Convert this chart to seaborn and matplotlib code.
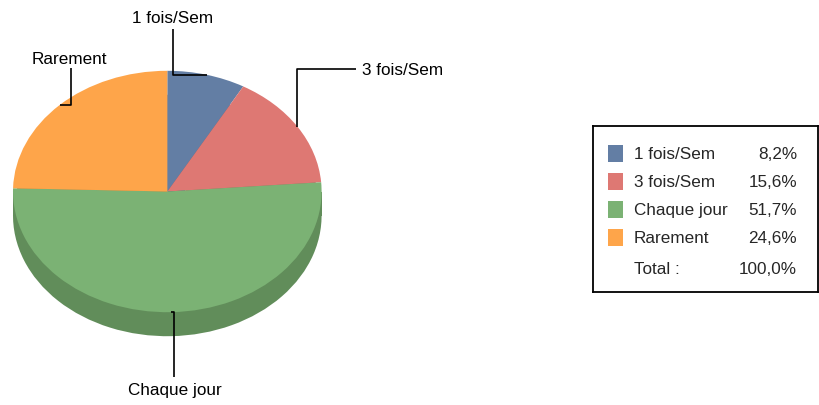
"""3D-style pie of visit frequency with a boxed legend of shares."""

import matplotlib.pyplot as plt
import numpy as np
import seaborn as sns

CATEGORIES = ["1 fois/Sem", "3 fois/Sem", "Chaque jour", "Rarement"]
SHARES = [8.2, 15.6, 51.7, 24.6]
TOTAL_SHARE = 100.0
COLORS = ["#637ea4", "#de7873", "#7bb274", "#fea54a"]
SIDE_COLORS = ["#4d6483", "#b25f5b", "#618d5a", "#cb843b"]

W, H = 819, 405
CX, CY, RX, RY = 167.3, 191.5, 154.3, 120.7
DEPTH = 24 / RY
FONT_SIZE = 12.3


def to_data(px, py):
    return (px - CX) / RX, (CY - py) / RY


def pct(value):
    return f"{value:.1f}%".replace(".", ",")


sns.set_theme(style="white")
plt.rcParams["font.family"] = ["Liberation Sans", "DejaVu Sans"]

fig = plt.figure(figsize=(W / 100, H / 100), dpi=100)
ax = fig.add_axes([0, 0, 1, 1])

# side of the disc, then the top face
ax.pie(SHARES, colors=SIDE_COLORS, startangle=90, counterclock=False,
       center=(0, -DEPTH), wedgeprops=dict(linewidth=0))
ax.fill_between([-1, 1], -DEPTH, 0, color=SIDE_COLORS[2], linewidth=0)
wedges, _ = ax.pie(SHARES, colors=COLORS, startangle=90, counterclock=False,
                   wedgeprops=dict(linewidth=0))
ax.set_aspect("auto")
ax.set_xlim(to_data(0, 0)[0], to_data(W, 0)[0])
ax.set_ylim(to_data(0, H)[1], to_data(0, 0)[1])
ax.axis("off")

# leader lines: anchor on the rim at each wedge's mid angle
anchors = []
for w in wedges:
    theta = np.deg2rad((w.theta1 + w.theta2) / 2)
    anchors.append((np.cos(theta), np.sin(theta)))

label_layout = {
    "1 fois/Sem": dict(path=[("ax", None), (172.7, None), (172.7, 29)],
                       text=(172.7, 23), ha="center"),
    "3 fois/Sem": dict(path=[("ax", None), (None, 69), (356, 69)],
                       text=(362, 75), ha="left"),
    "Chaque jour": dict(path=[("ax", None), (174, None), (174, 377)],
                        text=(174.5, 395), ha="center"),
    "Rarement": dict(path=[("ax", None), (70.7, None), (70.7, 68)],
                     text=(69.5, 64), ha="center"),
}

for name, (axx, axy) in zip(CATEGORIES, anchors):
    spec = label_layout[name]
    xs, ys = [axx], [axy]
    for px, py in spec["path"][1:]:
        dx = to_data(px, 0)[0] if px is not None else xs[-1]
        dy = to_data(0, py)[1] if py is not None else ys[-1]
        xs.append(dx)
        ys.append(dy)
    ax.plot(xs, ys, color="black", linewidth=1.2, solid_capstyle="butt")
    tx, ty = to_data(*spec["text"])
    ax.text(tx, ty, name, ha=spec["ha"], va="baseline", fontsize=FONT_SIZE,
            color="black")

# legend box
L, R, T, B = 593, 818, 126, 292
lax = fig.add_axes([L / W, (H - B) / H, (R - L) / W, (B - T) / H])
row_px = 28
first_row = 153
lax.set_xlim(L, R)
lax.set_ylim((B - first_row) / row_px, (T - first_row) / row_px)
rows = np.arange(len(CATEGORIES))
lax.barh(rows, width=15, left=608, height=17 / row_px, color=COLORS, linewidth=0)
for i, (name, share) in enumerate(zip(CATEGORIES, SHARES)):
    lax.text(634, i, name, va="center_baseline", fontsize=FONT_SIZE)
    lax.text(797, i, pct(share), ha="right", va="center_baseline", fontsize=FONT_SIZE)
total_row = (268 - first_row) / row_px
lax.text(634, total_row, "Total :", va="center_baseline", fontsize=FONT_SIZE)
lax.text(797, total_row, pct(TOTAL_SHARE), ha="right", va="center_baseline",
         fontsize=FONT_SIZE)
lax.set_xticks([])
lax.set_yticks([])
for spine in lax.spines.values():
    spine.set_visible(True)
    spine.set_color("black")
    spine.set_linewidth(1.3)

fig.savefig("out.png", dpi=100)
plt.close(fig)
